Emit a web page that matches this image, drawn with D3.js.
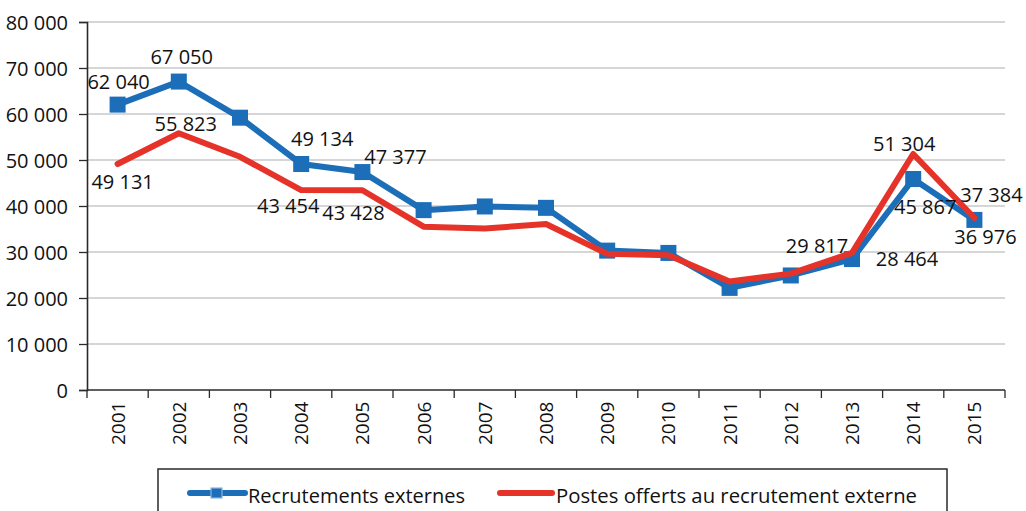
<!DOCTYPE html>
<html><head><meta charset="utf-8">
<script src="https://cdn.jsdelivr.net/npm/d3@7"></script>
<style>
html,body{margin:0;padding:0;background:#fff;}
svg{display:block;font-family:"Open Sans",sans-serif;}
</style></head>
<body>
<svg id="chart" width="1026" height="511"></svg>
<script>
const years = ["2001","2002","2003","2004","2005","2006","2007","2008","2009","2010","2011","2012","2013","2014","2015"];
const recrutements = [62040,67050,59200,49134,47377,39100,39900,39600,30300,29800,22200,24900,28464,45867,36976];
const postes = [49131,55823,50700,43454,43428,35500,35100,36100,29600,29300,23600,25300,29817,51304,37384];
const yTicks = [0,10000,20000,30000,40000,50000,60000,70000,80000];
const seriesNames = ["Recrutements externes","Postes offerts au recrutement externe"];
// labelled points: [series, yearIndex]
const labelled = [
  ["r",0],["r",1],["r",3],["r",4],["r",12],["r",13],["r",14],
  ["p",0],["p",1],["p",3],["p",4],["p",12],["p",13],["p",14]
];
// label offsets (layout, in px from the point)
const labelOffsets = {
  "r0":[1,-16],"r1":[3,-18],"r3":[21,-18],"r4":[33,-8],"r12":[55,7],"r13":[12,35],"r14":[11,24],
  "p0":[5,25],"p1":[7,-2],"p3":[-13,23],"p4":[-9,30],"p12":[-35,0],"p14":[17,-16],"p13":[-9,-3]
};

const blue = "#1B6EB7", red = "#E63329";
const svg = d3.select("#chart");
const x = d3.scaleBand().domain(years).range([87,1005]);
const y = d3.scaleLinear().domain([0,80000]).range([390,22]);
const fmt = v => d3.format(",")(v).replace(/,/g," ");

// gridlines
svg.append("g").selectAll("line").data(yTicks.filter(d=>d>0)).join("line")
  .attr("x1",87).attr("x2",1005).attr("y1",d=>y(d)).attr("y2",d=>y(d))
  .attr("stroke","#c8c8c8").attr("stroke-width",1.3);

// y axis
const yAxis = svg.append("g").attr("transform","translate(87,0)")
  .call(d3.axisLeft(y).tickValues(yTicks).tickSize(8).tickPadding(11).tickFormat(fmt));
yAxis.select(".domain").attr("stroke","#2a2a2a").attr("stroke-width",1.6);
yAxis.selectAll(".tick line").attr("stroke","#2a2a2a").attr("stroke-width",1.3);
yAxis.selectAll("text").attr("font-size",20).attr("fill","#111").attr("font-family","Open Sans").attr("dy","0.36em");

// x axis with ticks between categories
const xAxisG = svg.append("g").attr("transform","translate(0,390)");
xAxisG.append("line").attr("x1",87).attr("x2",1005).attr("stroke","#2a2a2a").attr("stroke-width",1.6);
const bounds = years.map(d=>x(d)).concat([x(years[years.length-1])+x.bandwidth()]);
xAxisG.selectAll("line.tk").data(bounds).join("line").attr("class","tk")
  .attr("x1",d=>d).attr("x2",d=>d).attr("y1",0).attr("y2",8)
  .attr("stroke","#2a2a2a").attr("stroke-width",1.3);
xAxisG.selectAll("text").data(years).join("text")
  .attr("transform",d=>`translate(${x(d)+x.bandwidth()/2+7},55) rotate(-90)`)
  .attr("text-anchor","start").attr("font-size",19).attr("fill","#111")
  .text(d=>d);

const cx = d => x(d)+x.bandwidth()/2;
const line = d3.line().x((v,i)=>cx(years[i])).y(v=>y(v));

// blue series
svg.append("path").datum(recrutements).attr("d",line).attr("fill","none")
  .attr("stroke",blue).attr("stroke-width",6).attr("stroke-linejoin","round");
svg.append("g").selectAll("rect").data(recrutements).join("rect")
  .attr("x",(v,i)=>cx(years[i])-8).attr("y",v=>y(v)-8).attr("width",16).attr("height",16)
  .attr("fill",blue);
// red series
svg.append("path").datum(postes).attr("d",line).attr("fill","none")
  .attr("stroke",red).attr("stroke-width",6).attr("stroke-linejoin","round").attr("stroke-linecap","round");

// data labels
svg.append("g").selectAll("text").data(labelled).join("text")
  .attr("x",d=>cx(years[d[1]])+labelOffsets[d[0]+d[1]][0])
  .attr("y",d=>y((d[0]==="r"?recrutements:postes)[d[1]])+labelOffsets[d[0]+d[1]][1])
  .attr("text-anchor","middle").attr("font-size",20).attr("fill","#111")
  .text(d=>fmt((d[0]==="r"?recrutements:postes)[d[1]]));

// legend
const lg = svg.append("g");
lg.append("rect").attr("x",158).attr("y",469).attr("width",789).attr("height",60)
  .attr("fill","#fff").attr("stroke","#2a2a2a").attr("stroke-width",1.5);
lg.append("line").attr("x1",190).attr("x2",245).attr("y1",493).attr("y2",493)
  .attr("stroke",blue).attr("stroke-width",6).attr("stroke-linecap","round");
lg.append("rect").attr("x",211).attr("y",488).attr("width",11).attr("height",10)
  .attr("fill",blue).attr("stroke","#8db4de").attr("stroke-width",1.2);
lg.append("text").attr("x",248).attr("y",503).attr("font-size",20).attr("fill","#111")
  .attr("textLength",217).attr("lengthAdjust","spacingAndGlyphs").text(seriesNames[0]);
lg.append("line").attr("x1",500).attr("x2",552).attr("y1",493).attr("y2",493)
  .attr("stroke",red).attr("stroke-width",6).attr("stroke-linecap","round");
lg.append("text").attr("x",556).attr("y",503).attr("font-size",20).attr("fill","#111")
  .attr("textLength",361).attr("lengthAdjust","spacingAndGlyphs").text(seriesNames[1]);
</script>
</body></html>
